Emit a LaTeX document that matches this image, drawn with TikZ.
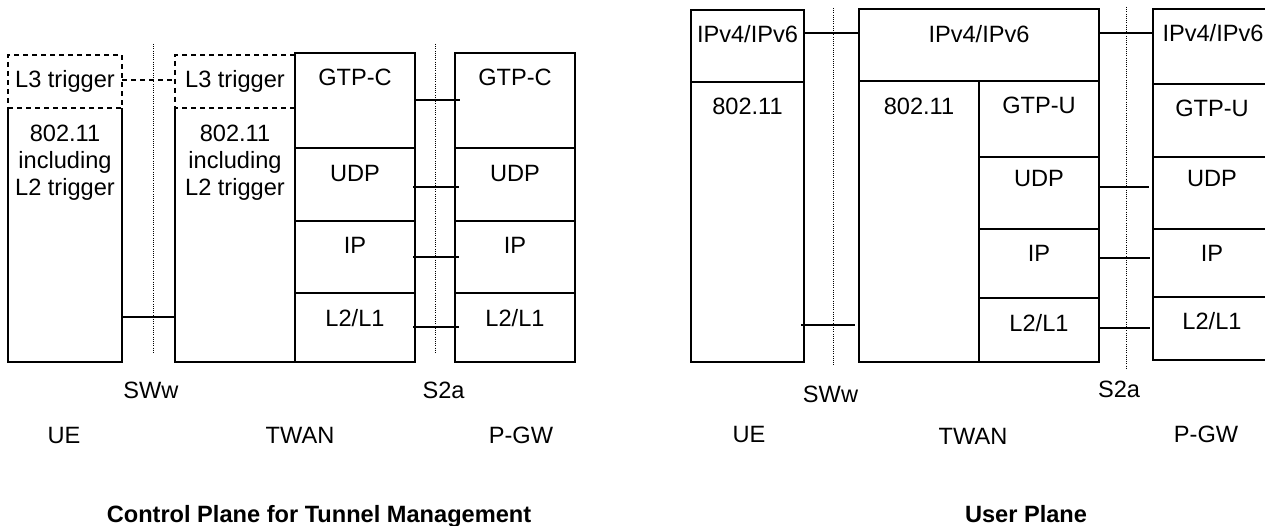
\documentclass[tikz,border=0pt]{standalone}
\usepackage{fontspec}
\setmainfont{Liberation Sans}
\begin{document}
\begin{tikzpicture}[x=1pt,y=-1pt,
  layer/.style={draw, line width=1.8pt, inner sep=0pt, outer sep=0pt, anchor=north west},
  dlayer/.style={layer, dash pattern=on 5pt off 4pt},
  txt/.style={inner sep=0pt, anchor=base, font=\fontsize{23.6pt}{27pt}\selectfont},
  ttl/.style={txt, font=\fontsize{23.6pt}{27pt}\selectfont\bfseries},
  link/.style={line width=1.8pt},
  dlink/.style={line width=1.8pt, dash pattern=on 5pt off 4pt},
  iface/.style={line width=1pt, dash pattern=on 1pt off 1.2pt}]
\useasboundingbox (0,0) rectangle (1265,526);
\fill[white] (0,0) rectangle (1265,526);

% ================= LEFT: Control plane =================
% UE
\node[dlayer, minimum width=114pt, minimum height=53pt] (ueLt) at (8,55) {};
\draw[link] (8,108) -- (8,362) -- (122,362) -- (122,108);
\node[txt] (ueLtT) at (65,88) {L3 trigger};
\node[txt] (ueL1a) at (65,141.5) {802.11};
\node[txt] (ueL1b) at (65,168.5) {including};
\node[txt] (ueL1c) at (65,195.5) {L2 trigger};
% TWAN
\draw[dlink] (295,55) -- (175,55) -- (175,108) -- (295,108);
\draw[link] (175,108) -- (175,362) -- (295,362);
\node[txt] (twLtT) at (235,88) {L3 trigger};
\node[txt] (twL1a) at (235,141.5) {802.11};
\node[txt] (twL1b) at (235,168.5) {including};
\node[txt] (twL1c) at (235,195.5) {L2 trigger};
\node[layer, minimum width=120pt, minimum height=95pt] (twC) at (295,53) {};
\node[layer, minimum width=120pt, minimum height=73pt] (twU) at (295,148) {};
\node[layer, minimum width=120pt, minimum height=72pt] (twI) at (295,221) {};
\node[layer, minimum width=120pt, minimum height=69pt] (twL) at (295,293) {};
\node[txt] (twCt) at (355,85.5) {GTP-C};
\node[txt] (twUt) at (355,182) {UDP};
\node[txt] (twIt) at (355,254) {IP};
\node[txt] (twLt) at (355,326.7) {L2/L1};
% P-GW
\node[layer, minimum width=120pt, minimum height=95pt] (pgC) at (455,53) {};
\node[layer, minimum width=120pt, minimum height=73pt] (pgU) at (455,148) {};
\node[layer, minimum width=120pt, minimum height=72pt] (pgI) at (455,221) {};
\node[layer, minimum width=120pt, minimum height=69pt] (pgL) at (455,293) {};
\node[txt] (pgCt) at (515,85.5) {GTP-C};
\node[txt] (pgUt) at (515,182) {UDP};
\node[txt] (pgIt) at (515,254) {IP};
\node[txt] (pgLt) at (515,326.7) {L2/L1};
% interfaces
\coordinate (sw1a) at (153,44); \coordinate (sw1b) at (153,353);
\coordinate (s21a) at (435,44); \coordinate (s21b) at (435,353);
\draw[iface] (sw1a) -- (sw1b);
\draw[iface] (s21a) -- (s21b);
% connectors
\draw[dlink] (ueLt.east |- 0,80) -- (175,80);
\draw[link] (122,317) -- (175,317);
\draw[link] (twC.east |- 0,100) -- ([xshift=5pt]pgC.west |- 0,100);
\draw[link] ([xshift=-2pt]twU.east |- 0,187) -- ([xshift=4pt]pgU.west |- 0,187);
\draw[link] ([xshift=-2pt]twI.east |- 0,257) -- ([xshift=4pt]pgI.west |- 0,257);
\draw[link] ([xshift=-2pt]twL.east |- 0,327) -- ([xshift=4pt]pgL.west |- 0,327);
% labels
\node[txt] (swwL) at (151,398) {SWw};
\node[txt] (s2aL) at (443.5,398) {S2a};
\node[txt] (ueL) at (64,443) {UE};
\node[txt] (twanL) at (300,443) {TWAN};
\node[txt] (pgwL) at (521,443) {P-GW};
\node[ttl] (titleL) at (319,522.5) {Control Plane for Tunnel Management};

% ================= RIGHT: User plane =================
% UE
\node[layer, minimum width=113pt, minimum height=72pt] (ueR4) at (691,10) {};
\node[layer, minimum width=113pt, minimum height=280pt] (ueR1) at (691,82) {};
\node[txt] (ueR4t) at (747.5,42.5) {IPv4/IPv6};
\node[txt] (ueR1t) at (747.5,115) {802.11};
% TWAN
\node[layer, minimum width=240pt, minimum height=72pt] (twR4) at (859,9) {};
\node[layer, minimum width=120pt, minimum height=281pt] (twR1) at (859,81) {};
\node[layer, minimum width=120pt, minimum height=76pt] (twRG) at (979,81) {};
\node[layer, minimum width=120pt, minimum height=72pt] (twRU) at (979,157) {};
\node[layer, minimum width=120pt, minimum height=69pt] (twRI) at (979,229) {};
\node[layer, minimum width=120pt, minimum height=64pt] (twRL) at (979,298) {};
\node[txt] (twR4t) at (979,42.5) {IPv4/IPv6};
\node[txt] (twR1t) at (919,115) {802.11};
\node[txt] (twRGt) at (1039,113.5) {GTP-U};
\node[txt] (twRUt) at (1039,186.7) {UDP};
\node[txt] (twRIt) at (1039,261.7) {IP};
\node[txt] (twRLt) at (1039,331.7) {L2/L1};
% P-GW
\node[layer, minimum width=120pt, minimum height=75pt] (pgR4) at (1153,9) {};
\node[layer, minimum width=120pt, minimum height=73pt] (pgRG) at (1153,84) {};
\node[layer, minimum width=120pt, minimum height=72pt] (pgRU) at (1153,157) {};
\node[layer, minimum width=120pt, minimum height=68pt] (pgRI) at (1153,229) {};
\node[layer, minimum width=120pt, minimum height=63pt] (pgRL) at (1153,297) {};
\node[txt] (pgR4t) at (1213,42) {IPv4/IPv6};
\node[txt] (pgRGt) at (1212,117) {GTP-U};
\node[txt] (pgRUt) at (1212,186.7) {UDP};
\node[txt] (pgRIt) at (1212,262) {IP};
\node[txt] (pgRLt) at (1212,329) {L2/L1};
% interfaces
\coordinate (sw2a) at (833,8); \coordinate (sw2b) at (833,366);
\coordinate (s22a) at (1126,7); \coordinate (s22b) at (1126,368);
\draw[iface] (sw2a) -- (sw2b);
\draw[iface] (s22a) -- (s22b);
% connectors
\draw[link] (ueR4.east |- 0,33) -- (twR4.west |- 0,33);
\draw[link] (twR4.east |- 0,33) -- (pgR4.west |- 0,33);
\draw[link] ([xshift=-3pt]ueR1.east |- 0,325) -- ([xshift=-4pt]twR1.west |- 0,325);
\draw[link] (twRU.east |- 0,187) -- ([xshift=-4pt]pgRU.west |- 0,187);
\draw[link] (twRI.east |- 0,258) -- ([xshift=-3pt]pgRI.west |- 0,258);
\draw[link] (twRL.east |- 0,328) -- ([xshift=-3pt]pgRL.west |- 0,328);
% labels
\node[txt] (swwR) at (830.5,402) {SWw};
\node[txt] (s2aR) at (1119,397.7) {S2a};
\node[txt] (ueR) at (749,442) {UE};
\node[txt] (twanR) at (973,444) {TWAN};
\node[txt] (pgwR) at (1206,442) {P-GW};
\node[ttl] (titleR) at (1026,522.5) {User Plane};
\end{tikzpicture}
\end{document}
